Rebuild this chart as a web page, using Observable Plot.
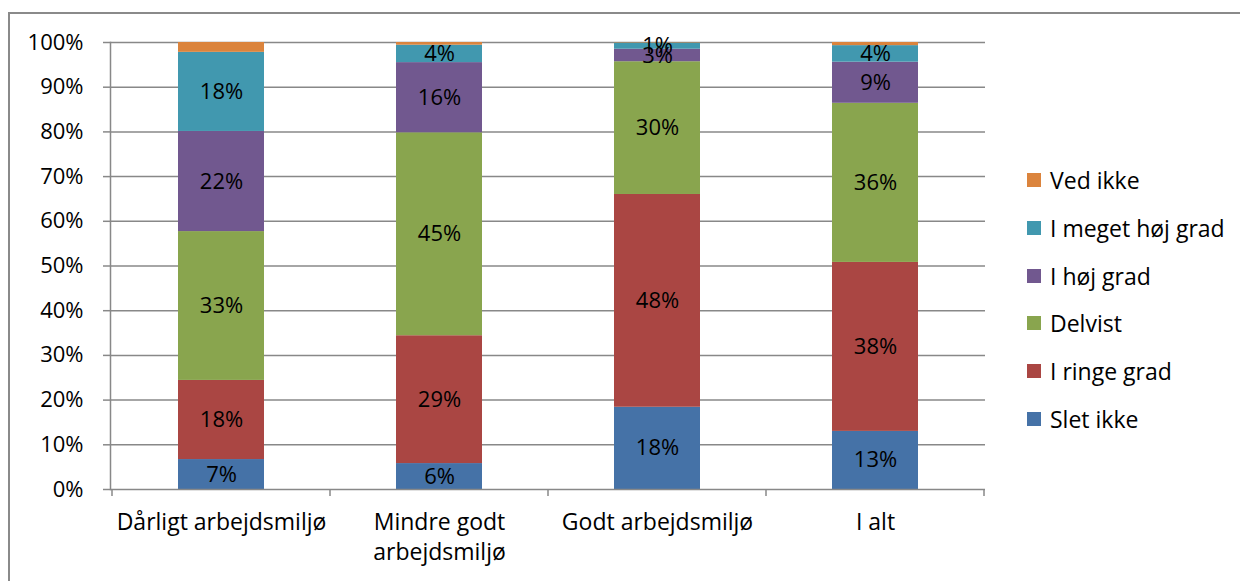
<!DOCTYPE html>
<html>
<head>
<meta charset="utf-8">
<script src="https://cdn.jsdelivr.net/npm/d3@7"></script>
<script src="https://cdn.jsdelivr.net/npm/@observablehq/plot@0.6"></script>
<style>
  html, body { margin: 0; padding: 0; background: #fff; }
  #wrap { position: relative; width: 1240px; height: 581px; overflow: hidden; font-family: "Open Sans", sans-serif; }
  #border { position: absolute; left: 8px; top: 12px; width: 1300px; height: 700px; border-left: 2px solid #8a8a8a; border-top: 2px solid #8a8a8a; }
  #chart { position: absolute; left: 0; top: 0; }
  #legend { position: absolute; left: 1027px; top: 0; }
  .item { position: absolute; left: 0; display: flex; align-items: center; white-space: nowrap; font-size: 23px; color: #000; height: 30px; }
  .sw { width: 14px; height: 14px; margin-right: 9px; }
</style>
</head>
<body>
<div id="wrap">
  <div id="border"></div>
  <div id="chart"></div>
  <div id="legend"></div>
</div>
<script>
const categories = ["Dårligt arbejdsmiljø", "Mindre godt\narbejdsmiljø", "Godt arbejdsmiljø", "I alt"];
const series = ["Slet ikke", "I ringe grad", "Delvist", "I høj grad", "I meget høj grad", "Ved ikke"];
const colors = ["#4572A7", "#AA4643", "#89A54E", "#71588F", "#4198AF", "#DB843D"];
// values per series, one per category (percent)
const sletIkke      = [6.7, 5.8, 18.4, 13.0];
const iRingeGrad    = [17.7, 28.6, 47.6, 37.8];
const delvist       = [33.3, 45.4, 29.7, 35.6];
const iHojGrad      = [22.4, 15.7, 2.8, 9.2];
const iMegetHojGrad = [17.7, 3.9, 1.4, 3.7];
const vedIkke       = [2.2, 0.6, 0.1, 0.7];
const yTicks = [0, 10, 20, 30, 40, 50, 60, 70, 80, 90, 100];

const seriesValues = [sletIkke, iRingeGrad, delvist, iHojGrad, iMegetHojGrad, vedIkke];
const data = [];
categories.forEach((c, ci) => {
  series.forEach((s, si) => {
    data.push({cat: c, series: s, value: seriesValues[si][ci]});
  });
});

const font = "'Open Sans', sans-serif";
const grid = "#888888";

const chart = Plot.plot({
  width: 1240,
  height: 581,
  marginLeft: 110,
  marginRight: 255,
  marginTop: 42,
  marginBottom: 92,
  style: {fontFamily: font, fontSize: "22px", color: "#000", background: "transparent"},
  x: {domain: categories, padding: 0, label: null},
  y: {domain: [0, 100], label: null},
  color: {domain: series, range: colors},
  marks: [
    Plot.ruleY(yTicks.filter(d => d > 0), {stroke: grid, strokeWidth: 1.5}),
    Plot.barY(data, {x: "cat", y: "value", fill: "series", insetLeft: 66, insetRight: 66}),
    Plot.text(data, Plot.stackY({
      x: "cat", y: "value", z: "series",
      text: d => d.series === "Ved ikke" ? null : Math.round(d.value) + "%",
      fill: "#000", fontSize: 22
    })),
    Plot.ruleY([0], {stroke: grid, strokeWidth: 1.5}),
    Plot.frame({anchor: "left", stroke: grid, strokeWidth: 1.5, strokeOpacity: 1}),
    Plot.axisY({ticks: yTicks, tickFormat: d => d + "%", tickSize: 7, tickPadding: 20, stroke: grid, strokeWidth: 1.5, fontSize: 22, fill: "#000"}),
    Plot.axisX({tickSize: 0, tickPadding: 19, lineHeight: 1.32, fontSize: 23, fill: "#000"})
  ]
});
document.getElementById("chart").appendChild(chart);

// x-axis tick marks at category boundaries, derived from the x scale
const xs = chart.scale("x");
const yScale = chart.scale("y");
const y0 = yScale.apply(0);
const svg = d3.select(chart);
const bounds = categories.map(c => xs.apply(c)).concat([xs.apply(categories[categories.length - 1]) + xs.bandwidth]);
svg.append("g").selectAll("line").data(bounds).join("line")
  .attr("x1", d => d).attr("x2", d => d)
  .attr("y1", y0).attr("y2", y0 + 7)
  .attr("stroke", grid).attr("stroke-width", 1.5);

// legend (top to bottom: reverse of stack order)
const legend = document.getElementById("legend");
series.slice().reverse().forEach((s, i) => {
  const item = document.createElement("div");
  item.className = "item";
  item.style.top = (165 + i * 47.8) + "px";
  const sw = document.createElement("div");
  sw.className = "sw";
  sw.style.background = colors[series.indexOf(s)];
  const t = document.createElement("span");
  t.textContent = s;
  item.appendChild(sw);
  item.appendChild(t);
  legend.appendChild(item);
});
</script>
</body>
</html>
